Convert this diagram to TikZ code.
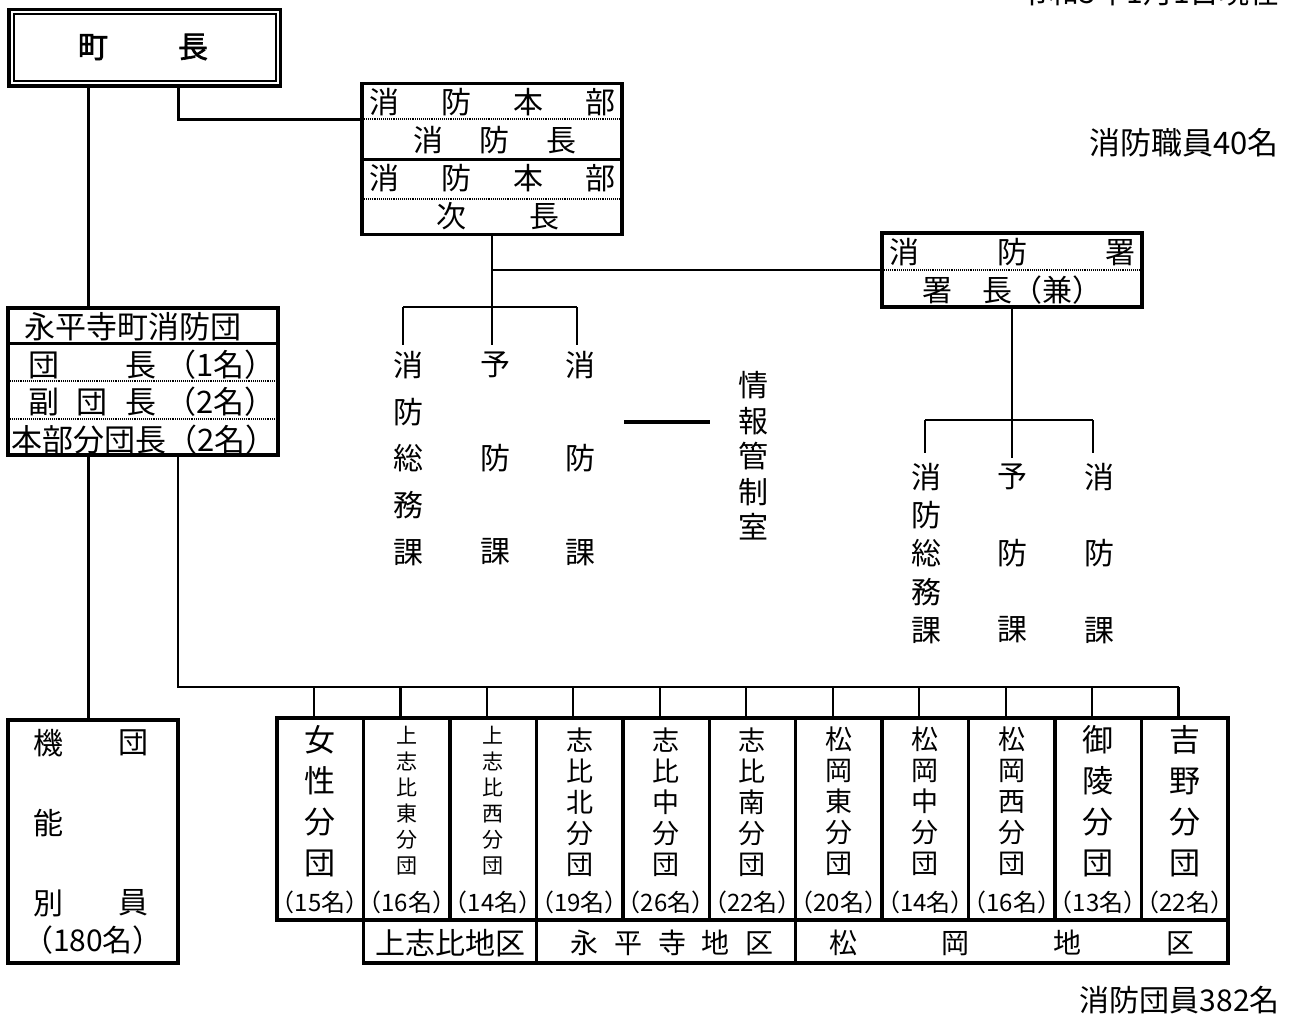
\documentclass[tikz,border=0pt]{standalone}
\usepackage{fontspec}
\usepackage{graphicx}
\setmainfont{Noto Sans CJK JP}
\newfontfamily\jpbold{Noto Sans CJK JP}[FakeBold=2]
\newfontfamily\jphalf{Noto Sans CJK JP}[RawFeature={+halt}]
\newcommand\jfs[2]{\fontsize{#1pt}{#2pt}\selectfont}
\begin{document}
\begin{tikzpicture}[x=1pt,y=-1pt,
  box/.style={draw,line width=3.5pt,inner sep=0pt},
  conn/.style={line width=3pt},
  lnk/.style={line width=2.2pt},
  dotl/.style={line width=2pt,dash pattern=on 1pt off 0.9pt},
  txt/.style={inner sep=0pt,font=\jfs{30}{36}},
  tl/.style={inner sep=0pt,font=\jfs{31}{36}},
  vA/.style={inner sep=0pt,align=center,font=\jfs{31}{41}},
  vB/.style={inner sep=0pt,align=center,font=\jfs{21}{26}},
  vC/.style={inner sep=0pt,align=center,font=\jfs{27}{31}},
  cnt/.style={inner sep=0pt,font=\jphalf\jfs{24}{28}},
  hcol/.style={inner sep=0pt,align=center,font=\jfs{30}{46.75}},
  scol/.style={inner sep=0pt,align=center,font=\jfs{30}{38.25}}
]
\useasboundingbox (0,0) rectangle (1303,1020);

% date (cut at top, as in the reference)
\node[txt,anchor=base east] (date) at (1280,3) {令和5年1月1日現在};

% chief
\node[draw,line width=3.5pt,minimum width=271.5pt,minimum height=76.5pt,inner sep=0pt] (chief) at (144.75,47.75) {};
\draw[line width=2pt] ([shift={(6.5,6.5)}]chief.north west) rectangle ([shift={(-6.5,-6.5)}]chief.south east);
\node[inner sep=0pt,font=\jpbold\jfs{30}{36}] (chieft) at (143,47) {\makebox[130pt]{町\hfill 長}};

% HQ box
\node[box,minimum width=260pt,minimum height=151pt] (hq) at (492,159) {};
\draw[dotl] ([yshift=-37.5pt]hq.north west) -- ([yshift=-37.5pt]hq.north east);
\draw[line width=3pt] (hq.west) -- (hq.east);
\draw[dotl] ([yshift=37.5pt]hq.south west) -- ([yshift=37.5pt]hq.south east);
\node[txt] (hq1) at (492,102) {\makebox[246pt]{消\hfill 防\hfill 本\hfill 部}};
\node[txt] (hq2) at (495,140) {\makebox[164pt]{消\hfill 防\hfill 長}};
\node[txt] (hq3) at (492,178) {\makebox[246pt]{消\hfill 防\hfill 本\hfill 部}};
\node[txt] (hq4) at (498,216) {\makebox[124pt]{次\hfill 長}};

\coordinate (x88) at (88,0);
\coordinate (x178) at (178,0);
\coordinate (hqin) at ([yshift=-38pt]hq.north west);
\draw[conn] (chief.south -| x178) |- (hqin);

% staff count
\node[tl,anchor=east] (staff) at (1279,143) {消防職員40名};

% HQ sections
\node[hcol] (hc1) at (408,458.5) {消\\防\\総\\務\\課};
\node[hcol] (hc2) at (495,458.5) {予\\\phantom{予}\\防\\\phantom{予}\\課};
\node[hcol] (hc3) at (580,458.5) {消\\\phantom{予}\\防\\\phantom{予}\\課};
\coordinate (hb1) at (403,307);
\coordinate (hb3) at (577,307);
\coordinate (hd1) at (403,345);
\coordinate (hd2) at (492,345);
\coordinate (hd3) at (577,345);
\coordinate (hqj) at (492,270);
\draw[lnk] (hq.south) -- (hd2);
\draw[lnk] (hb1) -- (hb3);
\draw[lnk] (hb1) -- (hd1);
\draw[lnk] (hb3) -- (hd3);

% info room
\node[inner sep=0pt,align=center,font=\jfs{30}{35.5}] (joho) at (753,456) {情\\報\\管\\制\\室};
\coordinate (jl1) at (624,422);
\coordinate (jl2) at (710,422);
\draw[line width=3.5pt] (jl1) -- (jl2);

% fire station
\node[box,minimum width=260pt,minimum height=74pt] (shou) at (1012,270) {};
\draw[dotl] (shou.west) -- (shou.east);
\node[txt] (s1) at (1012,252) {\makebox[246pt]{消\hfill 防\hfill 署}};
\node[txt] (s2) at (1012,290) {署　長（兼）};
\draw[lnk] (hqj) -- (shou.west);

\node[scol] (sc1) at (926,553.5) {消\\防\\総\\務\\課};
\node[scol] (sc2) at (1012,553.5) {予\\\phantom{予}\\防\\\phantom{予}\\課};
\node[scol] (sc3) at (1099,553.5) {消\\\phantom{予}\\防\\\phantom{予}\\課};
\coordinate (sb1) at (925,420);
\coordinate (sb3) at (1093,420);
\coordinate (sd1) at (925,453);
\coordinate (sd2) at (1012,458);
\coordinate (sd3) at (1093,453);
\draw[lnk] (shou.south) -- (sd2);
\draw[lnk] (sb1) -- (sb3);
\draw[lnk] (sb1) -- (sd1);
\draw[lnk] (sb3) -- (sd3);

% fire brigade
\node[box,minimum width=270pt,minimum height=147pt] (dan) at (143,381.5) {};
\draw[line width=3pt] ([yshift=-37pt]dan.north west) -- ([yshift=-37pt]dan.north east);
\draw[dotl] ([yshift=-75pt]dan.north west) -- ([yshift=-75pt]dan.north east);
\draw[dotl] ([yshift=-113pt]dan.north west) -- ([yshift=-113pt]dan.north east);
\node[tl] (dan1) at (133,327) {永平寺町消防団};
\node[tl] (dan2l) at (92.5,365) {\makebox[129pt]{団\hfill 長}};
\node[tl,anchor=east] (dan2r) at (276,365) {（1名）};
\node[tl] (dan3l) at (92.5,402) {\makebox[129pt]{副\hfill 団\hfill 長}};
\node[tl,anchor=east] (dan3r) at (276,402) {（2名）};
\node[tl,anchor=west] (dan4) at (11,440) {本部分団長（2名）};
\draw[conn] (chief.south -| x88) -- (dan.north -| x88);

% functional members
\node[box,minimum width=170pt,minimum height=243pt] (kinou) at (93,841.5) {};
\node[txt] (kn1) at (48,743) {機};
\node[txt] (kn2) at (133,743) {団};
\node[txt] (kn3) at (48,823) {能};
\node[txt] (kn4) at (48,903) {別};
\node[txt] (kn5) at (133,903) {員};
\node[txt] (kn6) at (93,940) {（180名）};
\draw[conn] (dan.south -| x88) -- (kinou.north -| x88);

% branch boxes
\foreach \i in {1,...,11} {
  \node[box,minimum width=86.45pt,minimum height=202pt] (b\i) at ({277+86.45*(\i-0.5)},819) {};
  \coordinate (dp\i) at ({277+86.45*(\i-1)+37},687);
}
\draw[lnk] (dan.south -| x178) |- (dp11);
\foreach \i in {1,...,11} {
  \draw[lnk] (dp\i) -- (b\i.north -| dp\i);
}

\node[vA] (n1) at ([yshift=18pt]b1.center) {女\\性\\分\\団};
\node[vB] (n2) at ([yshift=18pt]b2.center) {上\\志\\比\\東\\分\\団};
\node[vB] (n3) at ([yshift=18pt]b3.center) {上\\志\\比\\西\\分\\団};
\node[vC] (n4) at ([yshift=17pt]b4.center) {志\\比\\北\\分\\団};
\node[vC] (n5) at ([yshift=17pt]b5.center) {志\\比\\中\\分\\団};
\node[vC] (n6) at ([yshift=17pt]b6.center) {志\\比\\南\\分\\団};
\node[vC] (n7) at ([yshift=18pt]b7.center) {松\\岡\\東\\分\\団};
\node[vC] (n8) at ([yshift=18pt]b8.center) {松\\岡\\中\\分\\団};
\node[vC] (n9) at ([yshift=18pt]b9.center) {松\\岡\\西\\分\\団};
\node[vA] (n10) at ([yshift=18pt]b10.center) {御\\陵\\分\\団};
\node[vA] (n11) at ([yshift=18pt]b11.center) {吉\\野\\分\\団};

\node[cnt] (c1) at ([yshift=-83pt]b1.center) {（15名）};
\node[cnt] (c2) at ([yshift=-83pt]b2.center) {（16名）};
\node[cnt] (c3) at ([yshift=-83pt]b3.center) {（14名）};
\node[cnt] (c4) at ([yshift=-83pt]b4.center) {（19名）};
\node[cnt] (c5) at ([yshift=-83pt]b5.center) {（26名）};
\node[cnt] (c6) at ([yshift=-83pt]b6.center) {（22名）};
\node[cnt] (c7) at ([yshift=-83pt]b7.center) {（20名）};
\node[cnt] (c8) at ([yshift=-83pt]b8.center) {（14名）};
\node[cnt] (c9) at ([yshift=-83pt]b9.center) {（16名）};
\node[cnt] (c10) at ([yshift=-83pt]b10.center) {（13名）};
\node[cnt] (c11) at ([yshift=-83pt]b11.center) {（22名）};

% districts
\node[box,minimum width=172.9pt,minimum height=43pt] (d1) at (449.9,941.5) {};
\node[box,minimum width=259.35pt,minimum height=43pt] (d2) at (666.03,941.5) {};
\node[box,minimum width=432.3pt,minimum height=43pt] (d3) at (1011.85,941.5) {};
\node[txt] (dt1) at (450,943) {上志比地区};
\node[inner sep=0pt,font=\jfs{28}{34}] (dt2) at (672,943) {\makebox[203pt]{永\hfill 平\hfill 寺\hfill 地\hfill 区}};
\node[inner sep=0pt,font=\jfs{28}{34}] (dt3) at (1011.5,943) {\makebox[365pt]{松\hfill 岡\hfill 地\hfill 区}};

% total
\node[txt,anchor=east] (members) at (1280,1000) {消防団員382名};
\end{tikzpicture}
\end{document}
